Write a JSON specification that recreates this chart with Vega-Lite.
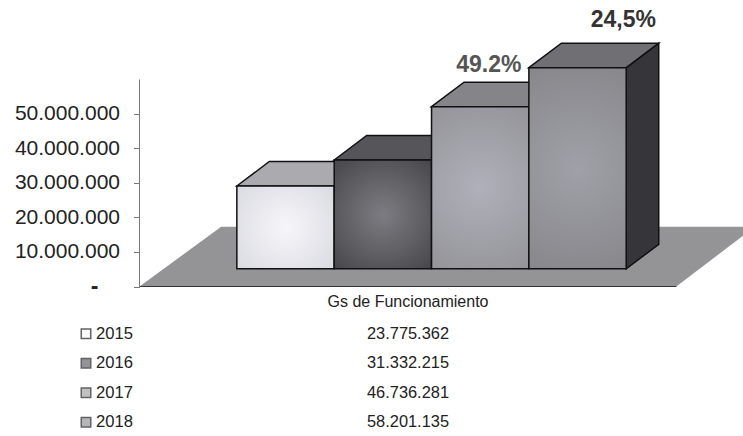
{"$schema":"https://vega.github.io/schema/vega-lite/v6.json","padding":{"left":13.5,"top":0,"right":0,"bottom":0},"background":"white","spacing":10,"config":{"view":{"stroke":null},"font":"Liberation Sans"},"datasets":{"floor":[{"x":-1,"y":0,"y2":0},{"x":-0.161,"y":17330000,"y2":0},{"x":4.515,"y":17330000,"y2":0},{"x":5.21,"y":17330000,"y2":14930000}],"bars":[{"year":2015,"x":0,"x2":1,"base":5130000,"top":29130000},{"year":2016,"x":1,"x2":2,"base":5130000,"top":36670000},{"year":2017,"x":2,"x2":3,"base":5130000,"top":52120000},{"year":2018,"x":3,"x2":4,"base":5130000,"top":63420000}],"tops":[{"year":2015,"x":0,"y":29130000,"y2":29130000},{"year":2015,"x":0.334,"y":36230000,"y2":29130000},{"year":2015,"x":1,"y":36230000,"y2":29130000},{"year":2015,"x":1.334,"y":36230000,"y2":36230000},{"year":2016,"x":1,"y":36670000,"y2":36670000},{"year":2016,"x":1.334,"y":43770000,"y2":36670000},{"year":2016,"x":2,"y":43770000,"y2":36670000},{"year":2016,"x":2.334,"y":43770000,"y2":43770000},{"year":2017,"x":2,"y":52120000,"y2":52120000},{"year":2017,"x":2.334,"y":59220000,"y2":52120000},{"year":2017,"x":3,"y":59220000,"y2":52120000},{"year":2017,"x":3.334,"y":59220000,"y2":59220000},{"year":2018,"x":3,"y":63420000,"y2":63420000},{"year":2018,"x":3.334,"y":70520000,"y2":63420000},{"year":2018,"x":4,"y":70520000,"y2":63420000},{"year":2018,"x":4.334,"y":70520000,"y2":70520000}],"side":[{"year":2018,"x":4,"y":63420000,"y2":5130000},{"year":2018,"x":4.334,"y":70520000,"y2":12230000}],"labels":[{"x":2.588,"y":64200000,"label":"49.2%","tone":"a"},{"x":3.97,"y":77200000,"label":"24,5%","tone":"b"}],"table":[{"year":"2015","value":"23.775.362"},{"year":"2016","value":"31.332.215"},{"year":"2017","value":"46.736.281"},{"year":"2018","value":"58.201.135"}]},"vconcat":[{"width":604.5,"height":286.5,"layer":[{"data":{"name":"floor"},"mark":{"type":"area","color":"#949497","stroke":null},"encoding":{"x":{"field":"x","type":"quantitative","scale":{"domain":[-1,5.21],"nice":false,"zero":false},"axis":{"title":"Gs de Funcionamiento","titleFontSize":16,"titleFontWeight":"normal","titleColor":"#222","titleX":268,"titleY":14.5,"titleAlign":"center","titleBaseline":"middle","labels":false,"ticks":false,"domain":false,"grid":false}},"y":{"field":"y","type":"quantitative","scale":{"domain":[0,83040000],"nice":false},"axis":{"title":null,"values":[0,10000000,20000000,30000000,40000000,50000000],"labelExpr":"datum.value == 0 ? '' : replace(format(datum.value, ','), /,/g, '.')","labelFontSize":21,"labelColor":"#222","labelPadding":14,"tickSize":6,"tickColor":"#777","domain":false,"grid":false}},"y2":{"field":"y2"}}},{"data":{"values":[{"x":-1,"x2":4.515,"y":0}]},"mark":{"type":"rule","color":"#333","strokeWidth":1},"encoding":{"x":{"field":"x","type":"quantitative"},"x2":{"field":"x2"},"y":{"field":"y","type":"quantitative"}}},{"data":{"values":[{"x":-1,"y":0,"y2":60000000}]},"mark":{"type":"rule","color":"#777","strokeWidth":1},"encoding":{"x":{"field":"x","type":"quantitative"},"y":{"field":"y","type":"quantitative"},"y2":{"field":"y2"}}},{"data":{"values":[{"x":-1,"y":0,"label":"-"}]},"mark":{"type":"text","fontSize":23,"fontWeight":"bold","color":"#222","align":"center","baseline":"middle","dx":-45,"dy":0},"encoding":{"x":{"field":"x","type":"quantitative"},"y":{"field":"y","type":"quantitative"},"text":{"field":"label"}}},{"data":{"name":"side"},"mark":{"type":"area","color":"#36363a","stroke":"#111","strokeWidth":1.5},"encoding":{"detail":{"field":"year"},"x":{"field":"x","type":"quantitative"},"y":{"field":"y","type":"quantitative"},"y2":{"field":"y2"}}},{"data":{"name":"tops"},"mark":{"type":"area","stroke":"#111","strokeWidth":1.5},"encoding":{"x":{"field":"x","type":"quantitative"},"y":{"field":"y","type":"quantitative"},"y2":{"field":"y2"},"detail":{"field":"year"},"color":{"field":"year","type":"nominal","legend":null,"scale":{"domain":[2015,2016,2017,2018],"range":["#ababaf","#55555a","#858589","#707074"]}}}},{"data":{"name":"bars"},"transform":[{"filter":"datum.year == 2015"}],"mark":{"type":"rect","stroke":"#111","strokeWidth":1.5,"color":{"gradient":"radial","stops":[{"offset":0,"color":"#f6f6fa"},{"offset":1,"color":"#d8d8e0"}],"r2":0.7}},"encoding":{"x":{"field":"x","type":"quantitative"},"x2":{"field":"x2"},"y":{"field":"base","type":"quantitative"},"y2":{"field":"top"}}},{"data":{"name":"bars"},"transform":[{"filter":"datum.year == 2016"}],"mark":{"type":"rect","stroke":"#111","strokeWidth":1.5,"color":{"gradient":"radial","stops":[{"offset":0,"color":"#7c7c82"},{"offset":1,"color":"#444448"}],"r2":0.7}},"encoding":{"x":{"field":"x","type":"quantitative"},"x2":{"field":"x2"},"y":{"field":"base","type":"quantitative"},"y2":{"field":"top"}}},{"data":{"name":"bars"},"transform":[{"filter":"datum.year == 2017"}],"mark":{"type":"rect","stroke":"#111","strokeWidth":1.5,"color":{"gradient":"radial","stops":[{"offset":0,"color":"#b0b0ba"},{"offset":1,"color":"#8e8e92"}],"r2":0.7}},"encoding":{"x":{"field":"x","type":"quantitative"},"x2":{"field":"x2"},"y":{"field":"base","type":"quantitative"},"y2":{"field":"top"}}},{"data":{"name":"bars"},"transform":[{"filter":"datum.year == 2018"}],"mark":{"type":"rect","stroke":"#111","strokeWidth":1.5,"color":{"gradient":"radial","stops":[{"offset":0,"color":"#a0a0a8"},{"offset":1,"color":"#808084"}],"r2":0.7}},"encoding":{"x":{"field":"x","type":"quantitative"},"x2":{"field":"x2"},"y":{"field":"base","type":"quantitative"},"y2":{"field":"top"}}},{"data":{"name":"labels"},"mark":{"type":"text","fontSize":23,"fontWeight":"bold","align":"center","baseline":"middle"},"encoding":{"x":{"field":"x","type":"quantitative"},"y":{"field":"y","type":"quantitative"},"text":{"field":"label"},"color":{"field":"tone","type":"nominal","legend":null,"scale":{"domain":["a","b"],"range":["#555555","#333333"]}}}}],"resolve":{"scale":{"color":"independent"}}},{"width":604.5,"height":118,"data":{"name":"table"},"layer":[{"mark":{"type":"point","shape":"square","filled":true,"size":90,"stroke":"#222","strokeWidth":1.5,"xOffset":-10},"encoding":{"x":{"datum":"año","type":"nominal","scale":{"domain":["año","valor"],"range":[-43.5,268.5],"padding":0},"axis":null},"y":{"field":"year","type":"nominal","axis":null,"scale":{"paddingInner":0,"paddingOuter":0}},"fill":{"field":"year","type":"nominal","legend":null,"scale":{"domain":["2015","2016","2017","2018"],"range":["#f8f8fa","#66666a","#a8a8ac","#98989c"]}}}},{"mark":{"type":"text","fontSize":16.6,"align":"left","baseline":"middle","color":"#222"},"encoding":{"x":{"datum":"año","type":"nominal"},"y":{"field":"year","type":"nominal"},"text":{"field":"year"}}},{"mark":{"type":"text","fontSize":16.4,"align":"center","baseline":"middle","color":"#222"},"encoding":{"x":{"datum":"valor","type":"nominal"},"y":{"field":"year","type":"nominal"},"text":{"field":"value"}}}]}]}
